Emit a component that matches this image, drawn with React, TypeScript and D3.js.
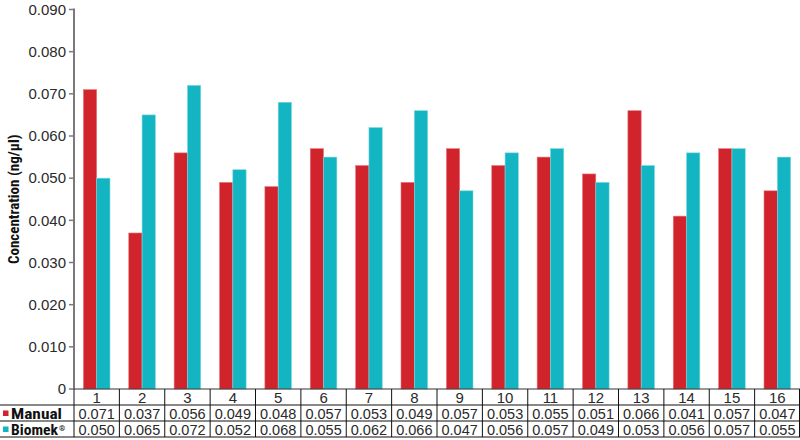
import React from "react";
import * as d3 from "d3";

const categories = ["1","2","3","4","5","6","7","8","9","10","11","12","13","14","15","16"];
const manual = [0.071,0.037,0.056,0.049,0.048,0.057,0.053,0.049,0.057,0.053,0.055,0.051,0.066,0.041,0.057,0.047];
const biomek = [0.050,0.065,0.072,0.052,0.068,0.055,0.062,0.066,0.047,0.056,0.057,0.049,0.053,0.056,0.057,0.055];
const seriesNames = ["Manual", "Biomek"];
const yTicks = [0,0.01,0.02,0.03,0.04,0.05,0.06,0.07,0.08,0.09];

const W = 800, H = 440;
const left = 74, right = 800, top = 9.5, base = 389;
const rowH = 16;
const colors = ["#d0232b", "#12b5c1"];
const edge = ["#e8787d", "#7fd9df"];
const lightFont = "'Liberation Sans', 'Helvetica Neue', Arial, sans-serif";
const boldFont = "'Liberation Sans Narrow', 'Arial Narrow', 'Roboto Condensed', 'Liberation Sans', sans-serif";

export default function App() {
  const x = d3.scaleBand<string>().domain(categories).range([left, right]).padding(0);
  const x1 = d3.scaleBand<string>().domain(seriesNames).range([0, x.bandwidth()]).paddingInner(0).paddingOuter(0.705);
  const y = d3.scaleLinear().domain([0, 0.09]).range([base, top]);
  const data = [manual, biomek];
  const fmt = d3.format(".3f");
  const rows = [base, base + rowH, base + 2 * rowH, base + 3 * rowH];

  return (
    <svg width={W} height={H} style={{ position: "absolute", left: 0, top: 0, background: "#fff" }}>
      {/* bars */}
      {categories.map((c, i) => (
        <g key={c}>
          {data.map((arr, s) => (
            <rect
              key={s}
              x={(x(c) as number) + (x1(seriesNames[s]) as number)}
              y={y(arr[i])}
              width={x1.bandwidth()}
              height={base - y(arr[i])}
              fill={colors[s]}
              stroke={edge[s]}
              strokeWidth={0.6}
            />
          ))}
        </g>
      ))}
      {/* y axis */}
      <line x1={left} x2={left} y1={top - 1} y2={base} stroke="#7a7a7a" strokeWidth={2} />
      {yTicks.map((t) => (
        <g key={t}>
          <line x1={left - 5} x2={left} y1={y(t)} y2={y(t)} stroke="#7a7a7a" strokeWidth={1.5} />
          <text x={left - 8} y={y(t)} dy="0.35em" textAnchor="end" fontFamily={lightFont} fontSize={15} fill="#2a2a2a" fontWeight={300}>
            {t === 0 ? "0" : fmt(t)}
          </text>
        </g>
      ))}
      <text
        transform={`translate(19, ${(top + base) / 2}) rotate(-90)`}
        textAnchor="middle"
        fontFamily={boldFont}
        fontWeight="bold"
        fontSize={15}
        fill="#111"
      >
        Concentration (ng/µl)
      </text>
      {/* table lines */}
      <line x1={left} x2={right} y1={rows[0]} y2={rows[0]} stroke="#333" strokeWidth={1.2} />
      {rows.slice(1).map((r) => (
        <line key={r} x1={0} x2={right} y1={r} y2={r} stroke="#111" strokeWidth={1} />
      ))}
      {categories.map((c) => (
        <line key={"v" + c} x1={x(c) as number} x2={x(c) as number} y1={rows[0]} y2={rows[3]} stroke="#111" strokeWidth={1} />
      ))}
      <line x1={right - 0.5} x2={right - 0.5} y1={rows[0]} y2={rows[3]} stroke="#111" strokeWidth={1} />
      {/* category labels */}
      {categories.map((c) => (
        <text key={"c" + c} x={(x(c) as number) + x.bandwidth() / 2} y={rows[0] + rowH / 2 + 1} dy="0.35em" textAnchor="middle" fontFamily={lightFont} fontSize={15} fill="#2a2a2a" fontWeight={300}>
          {c}
        </text>
      ))}
      {/* values */}
      {data.map((arr, s) =>
        arr.map((v, i) => (
          <text key={s + "-" + i} x={(x(categories[i]) as number) + x.bandwidth() / 2} y={rows[s + 1] + rowH / 2 + 1} dy="0.35em" textAnchor="middle" fontFamily={lightFont} fontSize={14.5} fill="#2a2a2a" fontWeight={300}>
            {fmt(v)}
          </text>
        ))
      )}
      {/* legend */}
      {seriesNames.map((n, s) => (
        <g key={n}>
          <rect x={3} y={rows[s + 1] + rowH / 2 - 2.5} width={5.5} height={5.5} fill={colors[s]} />
          <text x={11} y={rows[s + 1] + rowH / 2 + 1} dy="0.35em" fontFamily={boldFont} fontWeight="bold" fontSize={14.5} fill="#111" textLength={s === 0 ? 51 : 47} lengthAdjust="spacingAndGlyphs">
            {n}
          </text>
          {s === 1 ? (
            <text x={59} y={rows[s + 1] + 10} fontFamily={boldFont} fontWeight="bold" fontSize={8} fill="#111">®</text>
          ) : null}
        </g>
      ))}
    </svg>
  );
}
